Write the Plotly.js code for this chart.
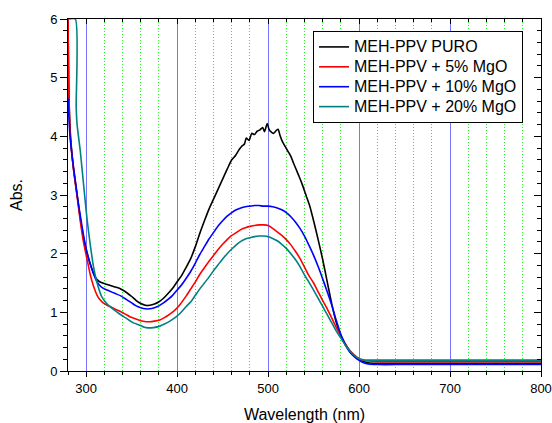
<!DOCTYPE html>
<html>
<head>
<meta charset="utf-8">
<script src="https://cdn.plot.ly/plotly-3.0.1.min.js"></script>
<style>html,body{margin:0;padding:0;background:#fff;}#chart{width:552px;height:423px;}</style>
</head>
<body>
<div id="chart"></div>
<script>
// Series names
var seriesNames = ["MEH-PPV PURO", "MEH-PPV + 5% MgO", "MEH-PPV + 10% MgO", "MEH-PPV + 20% MgO"];

// MEH-PPV PURO (black)
var wlPuro = [280, 281, 283, 286, 290, 294, 298, 302, 306, 310, 314, 318, 322, 326, 330, 335, 340, 345, 350, 355, 360, 365, 370, 375, 380, 385, 390, 395, 400, 405, 410, 415, 420, 425, 430, 435, 440, 445, 450, 455, 460, 464, 468, 471, 474, 476, 479, 482, 485, 488, 491, 494, 496, 499, 501, 503, 506, 509, 511, 513, 516, 519, 522, 525, 528, 531, 534, 538, 542, 546, 550, 555, 560, 565, 570, 575, 580, 585, 590, 595, 600, 605, 610, 620, 640, 660, 680, 700, 720, 740, 760, 780, 800];
var absPuro = [6.0, 4.7, 3.95, 3.45, 3.0, 2.55, 2.2, 1.95, 1.75, 1.6, 1.53, 1.5, 1.48, 1.46, 1.44, 1.42, 1.38, 1.33, 1.27, 1.2, 1.15, 1.12, 1.12, 1.14, 1.18, 1.24, 1.32, 1.41, 1.52, 1.63, 1.77, 1.92, 2.12, 2.35, 2.56, 2.76, 2.93, 3.1, 3.27, 3.44, 3.6, 3.67, 3.77, 3.83, 3.87, 3.97, 3.93, 4.05, 4.03, 4.09, 4.11, 4.15, 4.08, 4.22, 4.12, 4.08, 4.05, 4.1, 4.12, 4.02, 3.9, 3.82, 3.74, 3.66, 3.54, 3.43, 3.32, 3.16, 2.98, 2.8, 2.56, 2.24, 1.9, 1.52, 1.14, 0.82, 0.6, 0.44, 0.33, 0.25, 0.2, 0.16, 0.14, 0.13, 0.13, 0.13, 0.13, 0.13, 0.13, 0.13, 0.13, 0.13, 0.13];

// MEH-PPV + 5% MgO (red)
var wl5 = [280, 281, 282.5, 286, 290, 293.5, 297, 301, 304.5, 308, 313, 318, 322, 326, 331, 337, 343, 348, 354, 359, 364, 370, 375, 381, 386, 392, 397, 403, 410, 415, 420, 425, 430, 435, 440, 445, 450, 455, 460, 465, 470, 475, 480, 485, 490, 495, 500, 505, 510, 515, 520, 525, 530, 535, 540, 545, 550, 555, 560, 565, 570, 575, 580, 585, 590, 595, 600, 605, 610, 620, 650, 700, 750, 800];
var abs5 = [6.0, 4.7, 4.0, 3.45, 2.98, 2.56, 2.2, 1.9, 1.64, 1.45, 1.26, 1.17, 1.13, 1.1, 1.06, 1.02, 0.97, 0.925, 0.89, 0.86, 0.845, 0.84, 0.85, 0.87, 0.91, 0.97, 1.03, 1.13, 1.28, 1.40, 1.52, 1.65, 1.76, 1.87, 1.97, 2.07, 2.16, 2.24, 2.31, 2.36, 2.41, 2.44, 2.465, 2.48, 2.49, 2.49, 2.48, 2.43, 2.37, 2.31, 2.24, 2.15, 2.04, 1.92, 1.77, 1.62, 1.50, 1.35, 1.20, 1.06, 0.9, 0.74, 0.6, 0.46, 0.35, 0.27, 0.21, 0.18, 0.17, 0.16, 0.16, 0.16, 0.16, 0.16];

// MEH-PPV + 10% MgO (blue)
var wl10 = [280, 280.6, 282, 285, 288, 291, 294, 297, 300, 304, 308, 312, 316, 320, 326, 332, 338, 344, 350, 355, 360, 365, 370, 375, 380, 385, 390, 395, 400, 405, 410, 415, 420, 425, 430, 435, 440, 445, 450, 455, 460, 465, 470, 475, 480, 485, 490, 495, 500, 505, 510, 515, 520, 525, 530, 535, 540, 545, 550, 555, 560, 565, 570, 575, 580, 585, 590, 595, 600, 605, 610, 620, 650, 700, 750, 800];
var abs10 = [4.65, 4.45, 4.05, 3.6, 3.25, 2.9, 2.6, 2.32, 2.08, 1.85, 1.66, 1.52, 1.44, 1.40, 1.36, 1.32, 1.28, 1.22, 1.16, 1.11, 1.08, 1.06, 1.06, 1.08, 1.11, 1.16, 1.22, 1.29, 1.38, 1.47, 1.58, 1.70, 1.84, 1.99, 2.12, 2.25, 2.36, 2.47, 2.56, 2.64, 2.70, 2.75, 2.78, 2.80, 2.81, 2.82, 2.82, 2.81, 2.81, 2.80, 2.78, 2.75, 2.70, 2.63, 2.54, 2.43, 2.30, 2.14, 1.97, 1.78, 1.57, 1.35, 1.12, 0.86, 0.62, 0.45, 0.32, 0.24, 0.18, 0.14, 0.12, 0.11, 0.11, 0.11, 0.11, 0.11];

// MEH-PPV + 20% MgO (teal)
var wl20 = [280, 288, 289, 290, 293.5, 297, 301, 304.5, 308, 312, 317, 322, 326, 330, 336, 344, 352, 359, 364, 368, 374, 381, 386, 392, 397, 403, 410, 415, 420, 425, 430, 435, 440, 445, 450, 455, 460, 465, 470, 475, 480, 485, 490, 495, 500, 505, 510, 515, 520, 525, 530, 535, 540, 545, 550, 555, 560, 565, 570, 575, 580, 585, 590, 595, 600, 605, 610, 620, 650, 700, 750, 800];
var abs20 = [6.0, 6.0, 4.5, 4.2, 3.75, 3.2, 2.58, 2.15, 1.78, 1.5, 1.27, 1.16, 1.1, 1.05, 0.98, 0.9, 0.82, 0.78, 0.745, 0.735, 0.74, 0.765, 0.8, 0.85, 0.9, 0.98, 1.1, 1.18, 1.29, 1.4, 1.5, 1.6, 1.71, 1.81, 1.91, 2.0, 2.08, 2.15, 2.21, 2.25, 2.27, 2.29, 2.30, 2.30, 2.29, 2.26, 2.22, 2.16, 2.09, 2.0, 1.9, 1.78, 1.64, 1.51, 1.38, 1.24, 1.10, 0.96, 0.82, 0.68, 0.56, 0.44, 0.34, 0.26, 0.21, 0.19, 0.185, 0.185, 0.185, 0.185, 0.185, 0.185];

var xData = [wlPuro, wl5, wl10, wl20];
var yData = [absPuro, abs5, abs10, abs20];
var colors = ["#000000", "#ff0000", "#0000ff", "#008080"];

var traces = [];
for (var i = 0; i < seriesNames.length; i++) {
  traces.push({
    x: xData[i], y: yData[i],
    name: '<span style="font-size:16px">' + seriesNames[i] + '</span>',
    type: "scatter", mode: "lines",
    line: {color: colors[i], width: 1.6, shape: "spline", smoothing: 0.6}
  });
}
// empty trace so the mirrored (inside-tick) axes are drawn
traces.push({x: [], y: [], xaxis: "x2", yaxis: "y2", showlegend: false, hoverinfo: "skip", type: "scatter", mode: "lines"});

var fontFam = "Liberation Sans, Arial, sans-serif";
var layout = {
  width: 552, height: 423,
  margin: {l: 68, r: 11, t: 19, b: 52},
  paper_bgcolor: "#ffffff", plot_bgcolor: "#ffffff",
  font: {family: fontFam, size: 13, color: "#000"},
  showlegend: true,
  legend: {
    x: 0.518, y: 0.966, xanchor: "left", yanchor: "top",
    bgcolor: "#ffffff", bordercolor: "#000000", borderwidth: 1,
    font: {family: fontFam, size: 13, color: "#000"},
    tracegroupgap: 0
  },
  xaxis: {
    range: [280, 800], tick0: 0, dtick: 100,
    showline: true, linecolor: "#000", linewidth: 1,
    ticks: "outside", ticklen: 5, tickcolor: "#000",
    showgrid: true, gridcolor: "#7575ff", gridwidth: 1,
    zeroline: false,
    tickfont: {size: 13},
    title: {text: "Wavelength (nm)", font: {size: 16}, standoff: 14},
    minor: {dtick: 20, tick0: 0, ticks: "outside", ticklen: 3, tickcolor: "#000",
            showgrid: true, gridcolor: "#22ee22", griddash: "1px,2px", gridwidth: 1}
  },
  yaxis: {
    range: [0, 6], tick0: 0, dtick: 1,
    showline: true, linecolor: "#000", linewidth: 1,
    ticks: "outside", ticklen: 7, tickcolor: "#000",
    showgrid: false, zeroline: false,
    tickfont: {size: 13},
    title: {text: "Abs.", font: {size: 16}, standoff: 23},
    minor: {dtick: 0.2, ticks: "outside", ticklen: 4, tickcolor: "#000", showgrid: false}
  },
  xaxis2: {
    overlaying: "x", side: "top", anchor: "y", range: [280, 800], tick0: 0, dtick: 100,
    showline: true, linecolor: "#000", ticks: "inside", ticklen: 5, tickcolor: "#000",
    showticklabels: false, showgrid: false, zeroline: false,
    minor: {dtick: 20, tick0: 0, ticks: "inside", ticklen: 3, tickcolor: "#000", showgrid: false}
  },
  yaxis2: {
    overlaying: "y", side: "right", anchor: "x", range: [0, 6], tick0: 0, dtick: 1,
    showline: true, linecolor: "#000", ticks: "inside", ticklen: 7, tickcolor: "#000",
    showticklabels: false, showgrid: false, zeroline: false,
    minor: {dtick: 0.2, ticks: "inside", ticklen: 4, tickcolor: "#000", showgrid: false}
  }
};

Plotly.newPlot("chart", traces, layout, {displayModeBar: false, staticPlot: true});
</script>
</body>
</html>
